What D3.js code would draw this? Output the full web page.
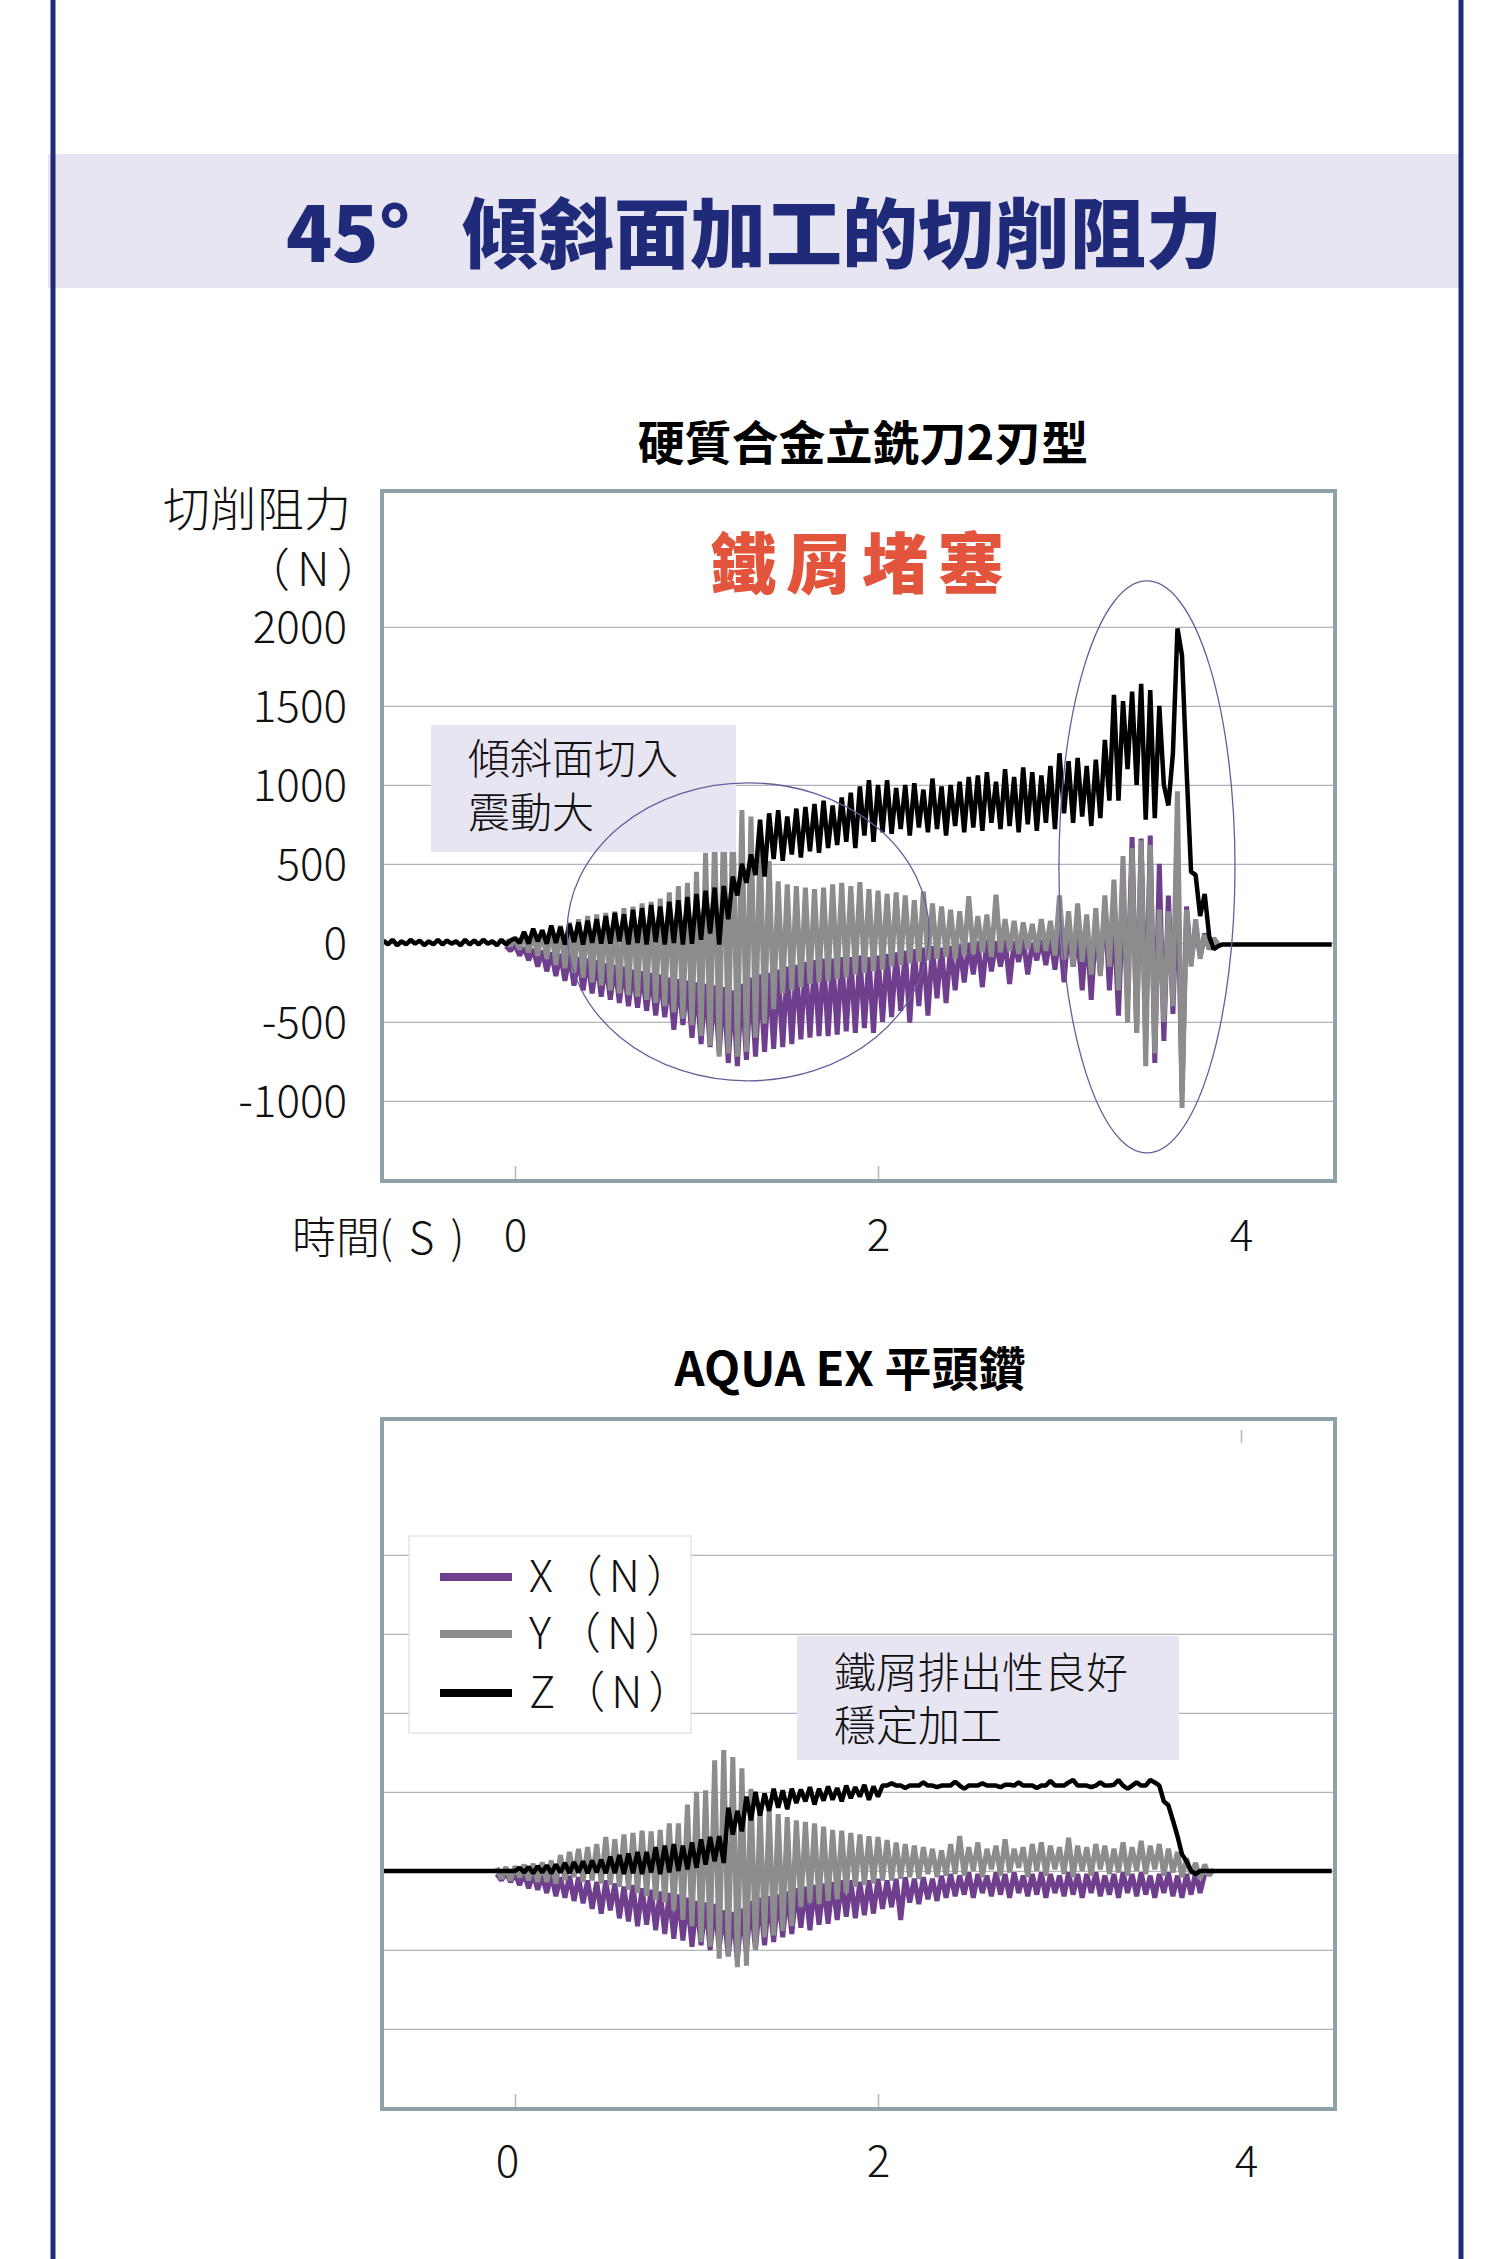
<!DOCTYPE html>
<html><head><meta charset="utf-8">
<script src="https://cdn.jsdelivr.net/npm/d3@7"></script>
<style>body{margin:0;background:#fff}svg{display:block}</style>
</head><body>
<svg id="c" width="1500" height="2259"></svg>
<script>
// ---------- DATA ----------
const dt = 0.025;                       // sampling step (s)
const yTicks = [2000,1500,1000,500,0,-500,-1000];
const xTicks = [0,2,4];
const legendNames = ["X（N）","Y（N）","Z（N）"];

// Chart 1: carbide end mill, 2 flutes
const z1Start = -0.725;
const z1 = [
 15,-10,20,-15,10,-10,20,-5,15,-15,10,-10,20,-10,15,-5,10,-15,20,-10,15,-10,20,-5,10,-15,20,-10,15,
 30,0,70,-5,90,10,80,-5,110,0,100,-10,120,5,130,-10,140,0,150,-5,
 170,-5,190,10,180,-10,210,0,220,-10,240,5,230,-10,260,0,270,-10,290,-5,
 310,20,330,60,350,-10,360,150,420,300,500,380,
 560,430,780,420,820,530,840,520,800,560,850,540,
 860,580,880,570,900,600,870,620,920,640,950,600,990,680,1030,640,
 1000,700,1030,690,980,720,1000,680,1010,730,970,700,1040,720,990,680,1000,740,1020,700,
 1050,730,1060,710,1080,760,1020,720,1100,740,1050,700,1110,750,1080,710,1060,760,1120,720,
 1200,820,1150,760,1170,800,1120,740,1160,790,1285,900,
 1570,900,1530,1100,1590,1000,1640,780,1600,790,1500,1000,870,1200,1990,1820,1100,450,430,170,310,40,-40,-20,
 -10,-10,-10,-10,-10,-10,-10,-10,-10,-10,-10,-10,-10,-10,-10,-10,-10,-10,-10,-10,-10,-10,-10,-10,-10
];
const xy1Start = -0.05;
const x1 = [
 -20,-50,-15,-80,-30,-110,-40,-150,-50,-180,
 -60,-210,-70,-240,-80,-270,-90,-300,-100,-320,
 -110,-340,-130,-360,-140,-380,-150,-400,-170,-410,
 -180,-430,-190,-460,-200,-470,-220,-550,-230,-520,
 -240,-600,-250,-640,-260,-660,-270,-700,-280,-760,
 -300,-780,-260,-740,-220,-720,-200,-690,-190,-670,
 -170,-660,-150,-640,-140,-610,-120,-600,-110,-590,
 -100,-590,-100,-580,-90,-560,-90,-570,-80,-540,
 -90,-570,-80,-500,-70,-470,-60,-430,-50,-505,
 -40,-400,-30,-460,-20,-350,-30,-380,-20,-300,
 -10,-250,0,-200,10,-280,20,-180,10,-150,
 20,-260,10,-120,20,-200,0,-110,20,-140,
 40,-170,80,-250,100,-150,60,-300,90,-360,
 120,-200,250,-300,180,-460,300,-350,670,-570,
 660,-600,680,-760,500,-620,300,-450,440,-950,
 230,-120,100,-80,60,-40,20,-10
];
const y1 = [
 20,-20,30,-40,50,-60,60,-80,80,-100,
 100,-140,110,-160,130,-190,150,-220,170,-250,
 180,-270,190,-300,200,-320,220,-330,230,-340,
 250,-360,260,-380,280,-400,320,-440,360,-480,
 380,-520,450,-590,570,-650,700,-720,860,-700,
 850,-720,840,-690,800,-600,675,-510,520,-420,
 390,-320,370,-300,360,-280,350,-260,340,-250,
 350,-240,370,-230,380,-220,360,-200,385,-190,
 340,-180,330,-170,310,-150,320,-140,300,-130,
 270,-120,325,-110,250,-100,230,-90,210,-100,
 200,-80,295,-70,170,-60,180,-90,305,-60,
 150,-50,140,-70,130,-40,120,-60,150,-50,
 140,-80,300,-105,200,-150,250,-120,180,-200,
 220,-210,300,-150,400,-300,550,-505,600,-570,
 650,-780,620,-700,210,-500,200,-400,960,-1045,
 210,-150,150,-100,50,-40,30,-10
];

// Chart 2: AQUA EX flat drill
const z2Start = -0.725;
const z2 = [
 0,0,0,0,0,0,0,0,0,0,0,0,0,0,0,0,0,0,0,0,0,0,0,0,0,0,0,0,0,0,
 20,-10,25,-15,30,-10,35,-15,40,-10,50,-15,55,-10,60,-15,65,-10,70,-15,
 90,-15,100,-20,110,-15,120,-20,120,-10,150,-20,160,-10,170,0,160,10,180,20,
 200,40,215,60,220,50,400,230,380,250,
 470,320,500,350,490,380,520,400,510,390,
 520,430,515,440,530,420,520,445,535,450,525,440,540,460,530,470,545,450,535,470,
 540,540,555,540,540,525,540,540,540,560,540,540,530,540,540,540,565,540,520,540,
 540,540,555,540,540,540,530,545,545,540,560,540,540,540,525,540,540,570,540,540,
 540,560,575,540,540,540,530,540,560,540,540,545,575,540,520,540,560,540,540,575,560,540,
 440,415,320,220,105,60,0,-20,0,
 0,0,0,0,0,0,0,0,0,0,0,0,0,0,0,0,0,0,0,0,0,0,0,0,0,0,0,0,0
];
const xy2Start = -0.1;
const x2 = [
 -20,-60,-10,-70,-20,-90,-15,-110,-20,-120,
 -30,-140,-20,-160,-40,-170,-30,-190,-40,-205,
 -60,-240,-70,-270,-60,-250,-80,-300,-100,-320,
 -90,-350,-110,-340,-120,-375,-130,-400,-140,-430,
 -150,-440,-170,-480,-190,-470,-200,-500,-210,-490,
 -250,-540,-260,-565,-240,-520,-190,-500,-170,-470,
 -160,-450,-150,-420,-130,-400,-110,-360,-100,-375,
 -90,-340,-80,-335,-70,-310,-60,-290,-60,-300,
 -70,-280,-60,-270,-50,-240,-60,-230,-50,-310,
 -40,-200,-50,-210,-40,-180,-50,-190,-30,-170,
 -20,-160,-30,-150,-10,-170,-20,-140,-30,-160,
 -10,-150,-20,-170,-10,-140,-30,-160,-20,-150,
 -10,-170,-20,-140,-30,-160,-10,-150,-20,-170,
 -20,-140,-10,-160,-30,-150,-20,-170,-10,-140,
 -20,-160,-10,-150,-30,-170,-20,-140,-10,-160,
 -30,-170,-20,-150,-10,-140,-20
];
const y2 = [
 20,-50,25,-60,30,-40,40,-60,45,-70,
 55,-70,65,-80,100,-60,120,-40,140,-70,
 150,-60,170,-80,215,-90,200,-100,230,-120,
 240,-140,255,-160,250,-185,260,-200,300,-250,
 300,-310,420,-350,500,-450,510,-480,700,-555,
 765,-540,720,-610,650,-600,520,-500,400,-420,
 385,-410,360,-380,340,-350,320,-230,310,-200,
 300,-210,280,-190,260,-180,255,-140,240,-100,
 230,-90,220,-80,215,-60,195,-60,180,-50,
 170,-40,160,-50,150,-20,140,-40,130,-30,
 170,-20,220,-30,150,0,180,-40,140,10,
 160,-30,200,-10,140,20,150,-40,170,0,
 180,-30,160,10,150,-20,210,-40,160,0,
 150,-30,170,10,160,-20,140,-10,180,-30,
 150,0,190,-20,160,10,170,-30,140,-10,
 120,-40,80,-20,50,-50,40,-30,10
];

// ---------- STYLE / LAYOUT ----------
const NAVY = "#1f2b78", BAND = "#e8e5f2", FRAME = "#8fa2aa", GRID = "#b2b2bc";
const COL = {x:"#6f3f8e", y:"#8c8c8c", z:"#000000"};
const CJK = "'Noto Sans CJK TC','Noto Sans CJK JP','Noto Sans',sans-serif";
const plotL = 382, plotR = 1335, plotH = 690;
const fmt = d => String(d);   // plain hyphen minus like the reference

const svg = d3.select("#c");
svg.append("rect").attr("width",1500).attr("height",2259).attr("fill","#fff");

// title band
svg.append("rect").attr("x",48).attr("y",154).attr("width",1412).attr("height",134).attr("fill",BAND);
const ttl = svg.append("text").attr("y",262).attr("font-family",CJK).attr("font-weight",900)
  .attr("font-size",76).attr("fill",NAVY);
ttl.append("tspan").attr("x",286).text("45°");
ttl.append("tspan").attr("x",462).text("傾斜面加工的切削阻力");

// page border lines
[53,1461].forEach(px => svg.append("line").attr("x1",px).attr("x2",px).attr("y1",0).attr("y2",2259)
  .attr("stroke",NAVY).attr("stroke-width",5));

const x = d3.scaleLinear().domain([-0.733, 4.518]).range([plotL, plotR]);

function panel(top, cfg){
  const y = d3.scaleLinear().domain([-1507, 2860]).range([top + plotH, top]);
  const g = svg.append("g");
  const grid = g.append("g").attr("transform",`translate(${plotL},0)`)
    .call(d3.axisLeft(y).tickValues(yTicks).tickSize(-(plotR-plotL)).tickFormat(""));
  grid.select(".domain").remove();
  grid.selectAll("line").attr("stroke",GRID).attr("stroke-width",1.4);
  const tk = g.append("g").attr("transform",`translate(0,${top+plotH})`)
    .call(d3.axisBottom(x).tickValues([0,2]).tickSize(-15).tickFormat(""));
  tk.select(".domain").remove();
  tk.selectAll("line").attr("stroke","#b8b8b8").attr("stroke-width",1.5);
  if (cfg.topTick){
    const tt = g.append("g").attr("transform",`translate(0,${top+11})`)
      .call(d3.axisBottom(x).tickValues([4]).tickSize(13).tickFormat(""));
    tt.select(".domain").remove();
    tt.selectAll("line").attr("stroke","#b8b8b8").attr("stroke-width",1.5);
  }
  const series = [
    {v:cfg.xs, s:cfg.xyStart, c:COL.x, w:5},
    {v:cfg.ys, s:cfg.xyStart, c:COL.y, w:5},
    {v:cfg.zs, s:cfg.zStart,  c:COL.z, w:4.5}
  ];
  series.forEach(sr => {
    const line = d3.line().x((d,i)=>x(sr.s + i*dt)).y(d=>y(d));
    g.append("path").attr("d",line(sr.v)).attr("fill","none").attr("stroke",sr.c)
      .attr("stroke-width",sr.w).attr("stroke-linejoin","bevel");
  });
  g.append("rect").attr("x",plotL).attr("y",top).attr("width",plotR-plotL).attr("height",plotH)
    .attr("fill","none").attr("stroke",FRAME).attr("stroke-width",4);
  const xa = g.append("g").attr("transform",`translate(0,${cfg.xLabelY})`)
    .call(d3.axisBottom(x).tickValues(xTicks).tickSize(0).tickPadding(0).tickFormat(fmt));
  xa.select(".domain").remove();
  xa.selectAll("text").attr("y",0).attr("dy",0).attr("font-family",CJK).attr("font-weight",300)
    .attr("font-size",44).attr("fill","#111")
    .attr("dx",(d)=>cfg.xLabelDx[xTicks.indexOf(d)]);
  return {g, y};
}

// ---------- CHART 1 ----------
const p1 = panel(491, {xs:x1, ys:y1, zs:z1, xyStart:xy1Start, zStart:z1Start,
  xLabelY:1251, xLabelDx:[0,0,0], topTick:false});
const ya = svg.append("g").attr("transform","translate(347,0)")
  .call(d3.axisLeft(p1.y).tickValues(yTicks).tickSize(0).tickPadding(0).tickFormat(fmt));
ya.select(".domain").remove();
ya.selectAll("text").attr("font-family",CJK).attr("font-weight",300).attr("font-size",44)
  .attr("fill","#111").attr("dy","0.36em");
svg.append("text").attr("x",163).attr("y",526).attr("font-family",CJK).attr("font-weight",300)
  .attr("font-size",47).attr("fill","#111").text("切削阻力");
svg.append("text").attr("x",244).attr("y",586).attr("font-family",CJK).attr("font-weight",300)
  .attr("font-size",46).attr("letter-spacing",7).attr("fill","#111").text("（N）");
const tl = svg.append("text").attr("y",1254).attr("font-family",CJK).attr("font-weight",300)
  .attr("font-size",44).attr("fill","#111");
tl.append("tspan").attr("x",292).text("時間");
tl.append("tspan").attr("x",379).attr("letter-spacing",16).text("(S)");
svg.append("text").attr("x",863).attr("y",460).attr("text-anchor","middle").attr("font-family",CJK)
  .attr("font-weight",700).attr("font-size",47).attr("fill","#000").text("硬質合金立銑刀2刃型");
svg.append("text").attr("x",710).attr("y",588).attr("font-family",CJK).attr("font-weight",900)
  .attr("font-size",66).attr("letter-spacing",10).attr("fill","#e2553c").text("鐵屑堵塞");
svg.append("rect").attr("x",431).attr("y",725).attr("width",305).attr("height",127).attr("fill",BAND);
const a1 = svg.append("text").attr("font-family",CJK).attr("font-weight",300)
  .attr("font-size",42).attr("fill","#111");
a1.append("tspan").attr("x",468).attr("y",774).text("傾斜面切入");
a1.append("tspan").attr("x",468).attr("y",828).text("震動大");
[[1.284, 70, 0.997, 943],[3.482, 481, 0.485, 1810]].forEach(e => {
  const cx = x(e[0]), cy = p1.y(e[1]);
  svg.append("ellipse").attr("cx",cx).attr("cy",cy)
    .attr("rx",x(e[0]+e[2])-cx).attr("ry",cy-p1.y(e[1]+e[3]))
    .attr("fill","none").attr("stroke","#6b5b9c").attr("stroke-width",1.3);
});

// ---------- CHART 2 ----------
const p2 = panel(1419, {xs:x2, ys:y2, zs:z2, xyStart:xy2Start, zStart:z2Start,
  xLabelY:2177, xLabelDx:[-8,0,5], topTick:true});
svg.append("text").attr("x",850).attr("y",1386).attr("text-anchor","middle").attr("font-family",CJK)
  .attr("font-weight",700).attr("font-size",47).attr("fill","#000").text("AQUA EX 平頭鑽");
svg.append("rect").attr("x",409).attr("y",1536).attr("width",282).attr("height",197)
  .attr("fill","#fff").attr("stroke","#dedede").attr("stroke-width",1.2);
const legY = [1577,1634,1693];
const legC = [COL.x, COL.y, COL.z];
legY.forEach((ly,i)=>{
  svg.append("line").attr("x1",440).attr("x2",512).attr("y1",ly).attr("y2",ly)
    .attr("stroke",legC[i]).attr("stroke-width",8);
  svg.append("text").attr("x",529).attr("y",ly+15).attr("font-family",CJK).attr("font-weight",300)
    .attr("font-size",44).attr("letter-spacing",6).attr("fill","#111").text(legendNames[i]);
});
svg.append("rect").attr("x",797).attr("y",1636).attr("width",382).attr("height",124).attr("fill",BAND);
const a2 = svg.append("text").attr("font-family",CJK).attr("font-weight",300)
  .attr("font-size",42).attr("fill","#111");
a2.append("tspan").attr("x",834).attr("y",1688).text("鐵屑排出性良好");
a2.append("tspan").attr("x",834).attr("y",1741).text("穩定加工");
</script>
</body></html>
